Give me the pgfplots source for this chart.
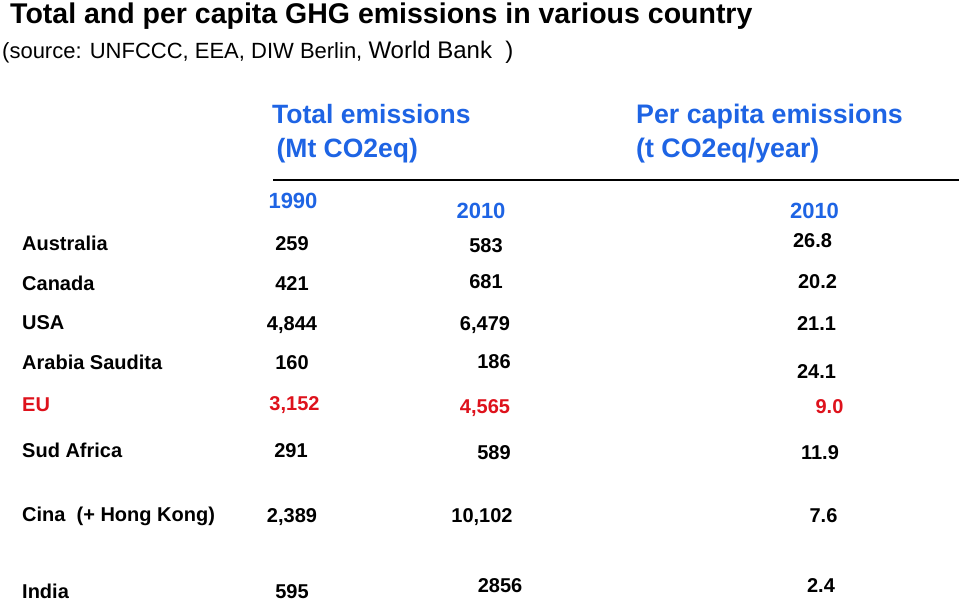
\documentclass[border=0pt]{standalone}
\usepackage{pgfplots}
\usepackage{pgfplotstable}
\usepackage{fontspec}
\setmainfont{Liberation Sans}
\pgfplotsset{compat=1.18}
\definecolor{hdrblue}{RGB}{30,100,228}
\definecolor{eured}{RGB}{222,18,28}
\newcommand{\tabfont}{\fontsize{20bp}{24bp}\selectfont\bfseries}

\pgfplotstableread[col sep=semicolon]{
x;y;label
22;250;Australia
22;290;Canada
22;329;USA
22;369;Arabia Saudita
22;457;Sud Africa
22;521;Cina\ \ (+\ Hong\ Kong)
22;598;India
}\countries
\pgfplotstableread[col sep=semicolon]{
x;y;label
22;411;EU
}\eurow
% numbers, black rows (1990 total, 2010 total, 2010 per capita)
\pgfplotstableread[col sep=semicolon]{
x;y;label
292;250;259
292;290;421
292;330;4,844
292;369;160
291;457;291
292;522;2,389
292;598;595
486;252;583
486;288;681
485;330;6,479
494;368;186
494;459;589
482;522;10,102
500;592;2856
812.5;247;26.8
817.5;288;20.2
816.5;330;21.1
816.5;378;24.1
820;459;11.9
823.5;522;7.6
821;592;2.4
}\numbers
\pgfplotstableread[col sep=semicolon]{
x;y;label
294.5;410;3,152
485;413;4,565
829.5;413;9.0
}\eunumbers

\begin{document}
\begin{tikzpicture}
\begin{axis}[
  at={(0,0)}, anchor=south west,
  scale only axis, width=959bp, height=603bp,
  xmin=0, xmax=959, ymin=0, ymax=603, y dir=reverse,
  hide axis, clip=false,
  point meta=explicit symbolic,
]
% header rule
\addplot[black, line width=1.6bp, mark=none] coordinates {(273,180) (959,180)};
% country names
\addplot[only marks, mark=none, nodes near coords,
  every node near coord/.append style={anchor=base west, inner sep=0pt, font=\tabfont, text=black}]
  table[x=x, y=y, meta=label] {\countries};
\addplot[only marks, mark=none, nodes near coords,
  every node near coord/.append style={anchor=base west, inner sep=0pt, font=\tabfont, text=eured}]
  table[x=x, y=y, meta=label] {\eurow};
% values
\addplot[only marks, mark=none, nodes near coords,
  every node near coord/.append style={anchor=base, inner sep=0pt, font=\tabfont, text=black}]
  table[x=x, y=y, meta=label] {\numbers};
\addplot[only marks, mark=none, nodes near coords,
  every node near coord/.append style={anchor=base, inner sep=0pt, font=\tabfont, text=eured}]
  table[x=x, y=y, meta=label] {\eunumbers};

% titles and headers
\node[anchor=base west, inner sep=0pt, font=\fontsize{28.5bp}{32bp}\selectfont\bfseries]
  at (axis cs:10,23.5) {Total and per capita GHG emissions in various country};
\node[anchor=base west, inner sep=0pt]
  at (axis cs:2,59) {{\fontsize{22bp}{26bp}\selectfont (source: UNFCCC, EEA, DIW Berlin, }{\fontsize{24bp}{28bp}\selectfont World Bank \ )}};
\node[anchor=base west, inner sep=0pt, text=hdrblue, font=\fontsize{26.5bp}{30bp}\selectfont\bfseries]
  at (axis cs:272,123) {Total emissions};
\node[anchor=base west, inner sep=0pt, text=hdrblue, font=\fontsize{26.5bp}{30bp}\selectfont\bfseries]
  at (axis cs:272,157) {\,(Mt CO2eq)};
\node[anchor=base west, inner sep=0pt, text=hdrblue, font=\fontsize{26.8bp}{30bp}\selectfont\bfseries]
  at (axis cs:636,123) {Per capita emissions};
\node[anchor=base west, inner sep=0pt, text=hdrblue, font=\fontsize{26.8bp}{30bp}\selectfont\bfseries]
  at (axis cs:636,157) {(t CO2eq/year)};
\node[anchor=base, inner sep=0pt, text=hdrblue, font=\fontsize{22bp}{26bp}\selectfont\bfseries]
  at (axis cs:293,208) {1990};
\node[anchor=base, inner sep=0pt, text=hdrblue, font=\fontsize{22bp}{26bp}\selectfont\bfseries]
  at (axis cs:481,218) {2010};
\node[anchor=base, inner sep=0pt, text=hdrblue, font=\fontsize{22bp}{26bp}\selectfont\bfseries]
  at (axis cs:814.5,218) {2010};
\end{axis}
\pgfresetboundingbox
\path (0,0) rectangle (959bp,603bp);
\end{tikzpicture}
\end{document}
